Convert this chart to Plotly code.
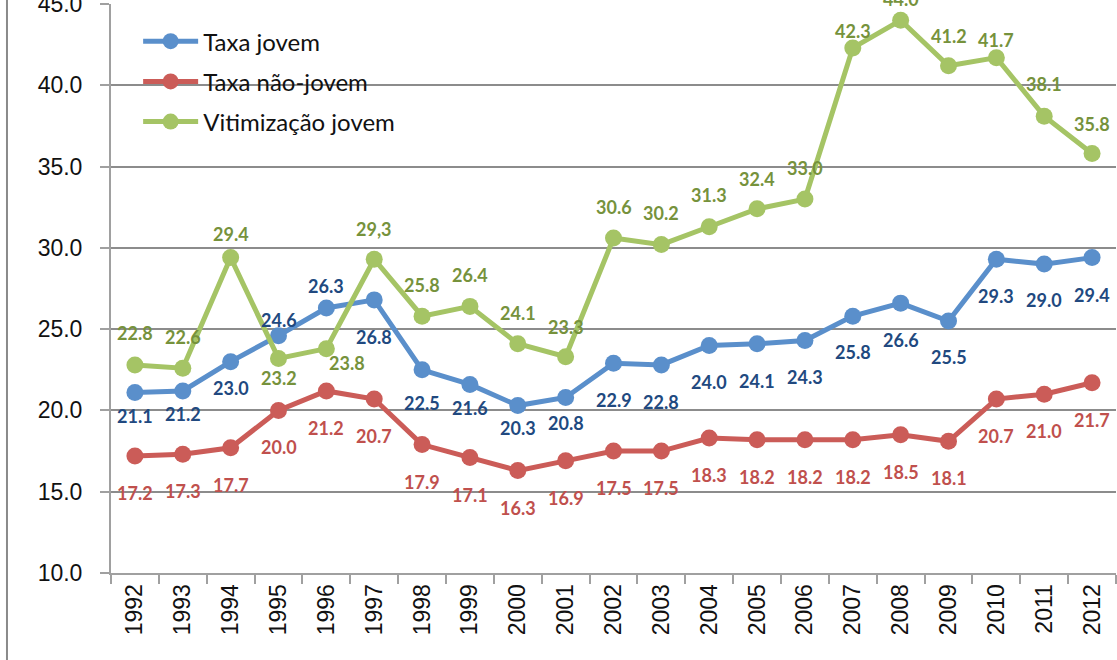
import plotly.graph_objects as go

years = [str(y) for y in range(1992, 2013)]
taxa_jovem = [21.1, 21.2, 23.0, 24.6, 26.3, 26.8, 22.5, 21.6, 20.3, 20.8, 22.9,
              22.8, 24.0, 24.1, 24.3, 25.8, 26.6, 25.5, 29.3, 29.0, 29.4]
taxa_nao_jovem = [17.2, 17.3, 17.7, 20.0, 21.2, 20.7, 17.9, 17.1, 16.3, 16.9, 17.5,
                  17.5, 18.3, 18.2, 18.2, 18.2, 18.5, 18.1, 20.7, 21.0, 21.7]
vitimizacao = [22.8, 22.6, 29.4, 23.2, 23.8, 29.3, 25.8, 26.4, 24.1, 23.3, 30.6,
               30.2, 31.3, 32.4, 33.0, 42.3, 44.0, 41.2, 41.7, 38.1, 35.8]
vitimizacao_labels = ["22.8", "22.6", "29.4", "23.2", "23.8", "29,3", "25.8", "26.4",
                      "24.1", "23.3", "30.6", "30.2", "31.3", "32.4", "33.0", "42.3",
                      "44.0", "41.2", "41.7", "38.1", "35.8"]

# label placement (pixels; positive = below the marker)
dy_jovem = [23, 23, 26, -16, -22, 37, 33, 24, 22, 26, 37, 37, 37, 37, 36, 36, 37, 36, 37, 36, 37]
dy_nao = [37] * 21
dy_vit = [-32, -31, -24, 20, 14, -30, -31, -31, -31, -30, -31, -32, -32, -30, -31, -17, -21,
          -30, -18, -32, -30]
dx_vit = [0, 0, 0, 0, 21, 0, 0, 0, 0, 0, 0, 0, 0, 0, 0, 0, 0, 0, 0, 0, 0]
dx_zero = [0] * 21

series = [
    ("Taxa jovem", taxa_jovem, [f"{v:.1f}" for v in taxa_jovem], dy_jovem, dx_zero, "#5A8FCB", "#21497F"),
    ("Taxa não-jovem", taxa_nao_jovem, [f"{v:.1f}" for v in taxa_nao_jovem], dy_nao, dx_zero, "#CB5C58", "#C0504D"),
    ("Vitimização jovem", vitimizacao, vitimizacao_labels, dy_vit, dx_vit, "#A5C465", "#76923C"),
]

fig = go.Figure()
annotations = []
for i, (name, vals, labels, dys, dxs, lc, tc) in enumerate(series):
    fig.add_trace(go.Scatter(
        x=years, y=vals, name=name, mode="lines+markers",
        line=dict(color=lc, width=5),
        marker=dict(color=lc, size=17),
        legendgroup=f"g{i}",
        cliponaxis=False,
    ))
    for k, (v, t, dy, dx) in enumerate(zip(vals, labels, dys, dxs)):
        annotations.append(dict(
            x=k, y=v, xref="x", yref="y", text=f"<b>{t}</b>", showarrow=False,
            yshift=-dy, xshift=dx, font=dict(family="Lato", size=18, color=tc),
        ))

fig.update_layout(
    width=1117, height=660,
    margin=dict(l=111, r=1, t=4, b=87, autoexpand=False),
    paper_bgcolor="white", plot_bgcolor="white",
    showlegend=True,
    legend=dict(
        x=0.027, y=0.9735, xanchor="left", yanchor="top",
        bgcolor="rgba(0,0,0,0)", font=dict(family="Lato", size=24, color="#111111"),
        tracegroupgap=6, itemwidth=55,
    ),
    annotations=annotations,
    shapes=[dict(type="line", xref="paper", yref="paper", x0=-0.1035, x1=-0.1035,
                 y0=-0.2, y1=1.01, line=dict(color="#8a8a8a", width=2))],
)
fig.update_xaxes(
    type="category", tickson="boundaries", ticks="outside", ticklen=9,
    tickcolor="#a0a0a0", tickwidth=2, showline=True, linecolor="#a0a0a0", linewidth=2,
    showgrid=False, tickangle=-90, automargin=False,
    tickfont=dict(family="Liberation Sans", size=23, color="#111111"),
    range=[-0.5, 20.5],
)
fig.update_yaxes(
    range=[10, 45], dtick=5, tickformat=".1f", ticks="outside", ticklen=9,
    tickcolor="#a0a0a0", tickwidth=2, showline=True, linecolor="#a0a0a0", linewidth=2,
    showgrid=True, gridcolor="#8c8c8c", gridwidth=1.5, zeroline=False, automargin=False,
    tickfont=dict(family="Liberation Sans", size=23, color="#111111"),
    ticklabelstandoff=13, ticklabeloverflow="allow",
)
fig.write_html("out.html", config={"displayModeBar": False},
               post_script="document.body.style.margin='0';")
